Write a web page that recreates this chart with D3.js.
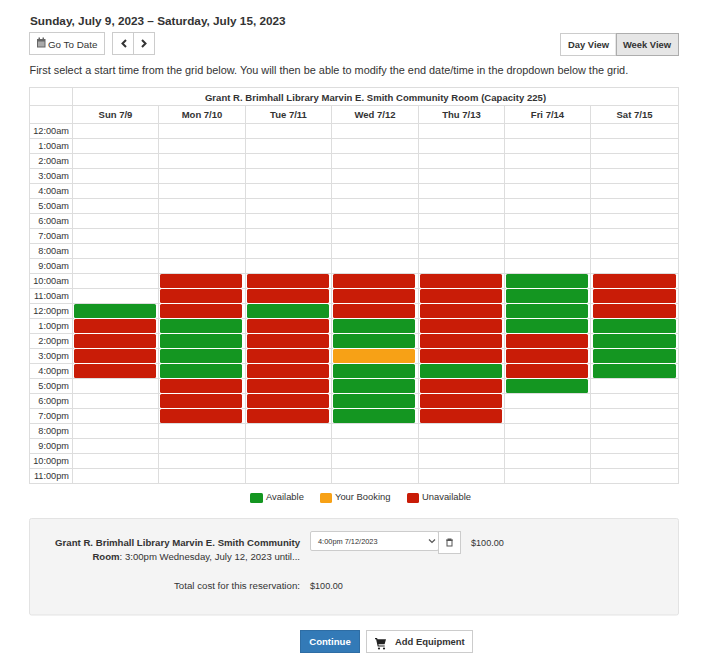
<!DOCTYPE html>
<html><head><meta charset="utf-8">
<script src="https://cdn.jsdelivr.net/npm/d3@7/dist/d3.min.js"></script>
<style>html,body{margin:0;padding:0;background:#fff}svg{display:block}text{font-family:"Liberation Sans",Arial,sans-serif;fill:#333}</style>
</head><body><svg id="c" width="721" height="658"></svg>
<script>
const days=["Sun 7/9","Mon 7/10","Tue 7/11","Wed 7/12","Thu 7/13","Fri 7/14","Sat 7/15"];
const times=["12:00am","1:00am","2:00am","3:00am","4:00am","5:00am","6:00am","7:00am","8:00am","9:00am","10:00am","11:00am","12:00pm","1:00pm","2:00pm","3:00pm","4:00pm","5:00pm","6:00pm","7:00pm","8:00pm","9:00pm","10:00pm","11:00pm"];
const statuses=["Available","Your Booking","Unavailable"];
const colors=["#149621","#f7a116","#c91c07"];
const sun={"12:00pm":"Available","1:00pm":"Unavailable","2:00pm":"Unavailable","3:00pm":"Unavailable","4:00pm":"Unavailable"};
const mon={"10:00am":"Unavailable","11:00am":"Unavailable","12:00pm":"Unavailable","1:00pm":"Available","2:00pm":"Available","3:00pm":"Available","4:00pm":"Available","5:00pm":"Unavailable","6:00pm":"Unavailable","7:00pm":"Unavailable"};
const tue={"10:00am":"Unavailable","11:00am":"Unavailable","12:00pm":"Available","1:00pm":"Unavailable","2:00pm":"Unavailable","3:00pm":"Unavailable","4:00pm":"Unavailable","5:00pm":"Unavailable","6:00pm":"Unavailable","7:00pm":"Unavailable"};
const wed={"10:00am":"Unavailable","11:00am":"Unavailable","12:00pm":"Unavailable","1:00pm":"Available","2:00pm":"Available","3:00pm":"Your Booking","4:00pm":"Available","5:00pm":"Available","6:00pm":"Available","7:00pm":"Available"};
const thu={"10:00am":"Unavailable","11:00am":"Unavailable","12:00pm":"Unavailable","1:00pm":"Unavailable","2:00pm":"Unavailable","3:00pm":"Unavailable","4:00pm":"Available","5:00pm":"Unavailable","6:00pm":"Unavailable","7:00pm":"Unavailable"};
const fri={"10:00am":"Available","11:00am":"Available","12:00pm":"Available","1:00pm":"Available","2:00pm":"Unavailable","3:00pm":"Unavailable","4:00pm":"Unavailable","5:00pm":"Available"};
const sat={"10:00am":"Unavailable","11:00am":"Unavailable","12:00pm":"Unavailable","1:00pm":"Available","2:00pm":"Available","3:00pm":"Available","4:00pm":"Available"};
const schedule=[sun,mon,tue,wed,thu,fri,sat];

const svg=d3.select("#c");
const G="#dddddd";
const x=d3.scaleOrdinal().domain(days).range([72.5,158.5,245.5,331.5,418.5,504.5,590.5]);
const xEnd=d3.scaleOrdinal().domain(days).range([158.5,245.5,331.5,418.5,504.5,590.5,678.5]);
const barStart=d3.scaleOrdinal().domain(days).range([74,160,247,333,420,506,593]);
const barWidth=d3.scaleOrdinal().domain(days).range([82,82,82,82,82,82,83]);
const y=d3.scaleBand().domain(times).range([123.5,483.5]);
const color=d3.scaleOrdinal().domain(statuses).range(colors);

function txt(s,px,py,size,opt={}){
  const t=svg.append("text").attr("x",px).attr("y",py).attr("font-size",size)
   .attr("text-anchor",opt.a||"start").attr("font-weight",opt.b?"bold":"normal").style("fill",opt.f||"#333").text(s);
  if(opt.ls)t.attr("letter-spacing",opt.ls);
  return t;
}
function box(x0,y0,w,h,fill,stroke,sw=1,r=0){
  return svg.append("rect").attr("x",x0).attr("y",y0).attr("width",w).attr("height",h).attr("rx",r)
   .attr("fill",fill).attr("stroke",stroke).attr("stroke-width",sw);
}
const line=(a,b,c,d)=>svg.append("line").attr("x1",a).attr("y1",b).attr("x2",c).attr("y2",d).attr("stroke",G);

// header
txt("Sunday, July 9, 2023 – Saturday, July 15, 2023",30,25,11.75,{b:1});
box(29.5,32.5,75,22,"#fff","#ccc");
box(112.5,32.5,42,22,"#fff","#ccc");
line(133.5,33,133.5,54).attr("stroke","#ccc");
txt("Go To Date",48,47.5,9.8);
// calendar icon
svg.append("path").attr("fill","#666").attr("d","M37 39h1.5v-1.5h1.5v1.5h2.5v-1.5h1.5v1.5H45.5v8.5H37z");
svg.append("path").attr("fill","#aaa").attr("d","M38 41.5h6.5v5H38z");
// chevrons
svg.append("path").attr("fill","none").attr("stroke","#333").attr("stroke-width",2).attr("d","M126 40l-3.5 3.5 3.5 3.5M142 40l3.5 3.5-3.5 3.5");
box(560.5,33.5,55.5,22,"#fff","#ccc");
box(616.5,33.5,62,22,"#e6e6e6","#adadad");
txt("Day View",588.5,48,9.4,{a:"middle",b:1});
txt("Week View",647,48,9.4,{a:"middle",b:1});
txt("First select a start time from the grid below. You will then be able to modify the end date/time in the dropdown below the grid.",29.5,74,10.9);

// grid
svg.append("g").selectAll("line").data(times.concat("end")).join("line")
  .attr("x1",29).attr("x2",679)
  .attr("y1",d=>d==="end"?y.range()[1]:y(d)).attr("y2",d=>d==="end"?y.range()[1]:y(d)).attr("stroke",G);
line(29,87.5,679,87.5);line(29,105.5,679,105.5);
line(29.5,87.5,29.5,483.5);line(678.5,87.5,678.5,483.5);
line(72.5,87.5,72.5,483.5);
svg.append("g").selectAll("line").data(days.slice(1)).join("line")
  .attr("x1",d=>x(d)).attr("x2",d=>x(d)).attr("y1",105.5).attr("y2",483.5).attr("stroke",G);

txt("Grant R. Brimhall Library Marvin E. Smith Community Room (Capacity 225)",375.5,100.5,9.5,{a:"middle",b:1,ls:0.04});
svg.append("g").selectAll("text").data(days).join("text")
  .attr("x",d=>(x(d)+xEnd(d))/2).attr("y",117.5).attr("text-anchor","middle")
  .attr("font-size",9.5).attr("font-weight","bold").text(d=>d);
svg.append("g").selectAll("text").data(times).join("text")
  .attr("x",69).attr("y",d=>y(d)+10.5).attr("text-anchor","end").attr("font-size",9.2).text(d=>d);

// booked slots
const slots=days.flatMap((d,i)=>times.filter(t=>schedule[i][t]).map(t=>({day:d,time:t,status:schedule[i][t],
  joined:!!schedule[i][times[times.indexOf(t)-1]]})));
svg.append("g").selectAll("rect").data(slots.filter(d=>d.joined)).join("rect")
  .attr("x",d=>barStart(d.day)).attr("y",d=>y(d.time)-0.5).attr("width",d=>barWidth(d.day)).attr("height",1).attr("fill","#fff");
svg.append("g").selectAll("rect").data(slots).join("rect")
  .attr("x",d=>barStart(d.day)).attr("y",d=>y(d.time)+0.5).attr("width",d=>barWidth(d.day)).attr("height",14).attr("rx",1.5)
  .attr("fill",d=>color(d.status));

// legend
const legendX=d3.scaleOrdinal().domain(statuses).range([250,320,407]);
const lg=svg.append("g").selectAll("g").data(statuses).join("g");
lg.append("rect").attr("x",d=>legendX(d)).attr("y",493).attr("width",d=>d==="Available"?13:12).attr("height",10).attr("rx",1.5).attr("fill",d=>color(d));
lg.append("text").attr("x",d=>legendX(d)+(d==="Available"?16:15)).attr("y",500).attr("font-size",9.4).text(d=>d);

// panel
box(29.5,518.5,649,96.5,"#f4f4f4","#e3e3e3",1,2);
txt("Grant R. Brimhall Library Marvin E. Smith Community",300,546,9.65,{a:"end",b:1});
const r=txt("",300,560,9.6,{a:"end"});
r.append("tspan").attr("font-weight","bold").text("Room");
r.append("tspan").text(": 3:00pm Wednesday, July 12, 2023 until...");
txt("Total cost for this reservation:",300,589,9.7,{a:"end"});
txt("$100.00",310,589,9.1);
box(310.5,531.5,128,19,"#fff","#ccc",1,1.5);
txt("4:00pm 7/12/2023",318,544,7.4);
svg.append("path").attr("fill","none").attr("stroke","#555").attr("stroke-width",1.2).attr("d","M429 539.5l3 3 3-3");
box(438.5,531.5,22,22,"#fff","#ccc");
svg.append("path").attr("fill","#555").attr("fill-rule","evenodd").attr("d","M446 539.5h1.5v-1h4v1h1.5v1h-.5v6h-6v-6h-.5zM447.5 541v4.5h4V541z");
txt("$100.00",471,546,9.1);

// buttons
box(300.5,630.5,59,22,"#337ab7","#2e6da4");
txt("Continue",330,645,9.6,{a:"middle",b:1,f:"#fff"});
box(366.5,630.5,106,22,"#fff","#ccc");
svg.append("path").attr("fill","#222").attr("d","M375 638h2l.6 1.2H386l-1.4 5h-6.2l.3 1.2h6v1h-7l-1.6-7.2H375z");
svg.append("circle").attr("cx",379).attr("cy",648.5).attr("r",1.1).attr("fill","#222");
svg.append("circle").attr("cx",384).attr("cy",648.5).attr("r",1.1).attr("fill","#222");
txt("Add Equipment",395,645,9.45,{b:1});
</script></body></html>
